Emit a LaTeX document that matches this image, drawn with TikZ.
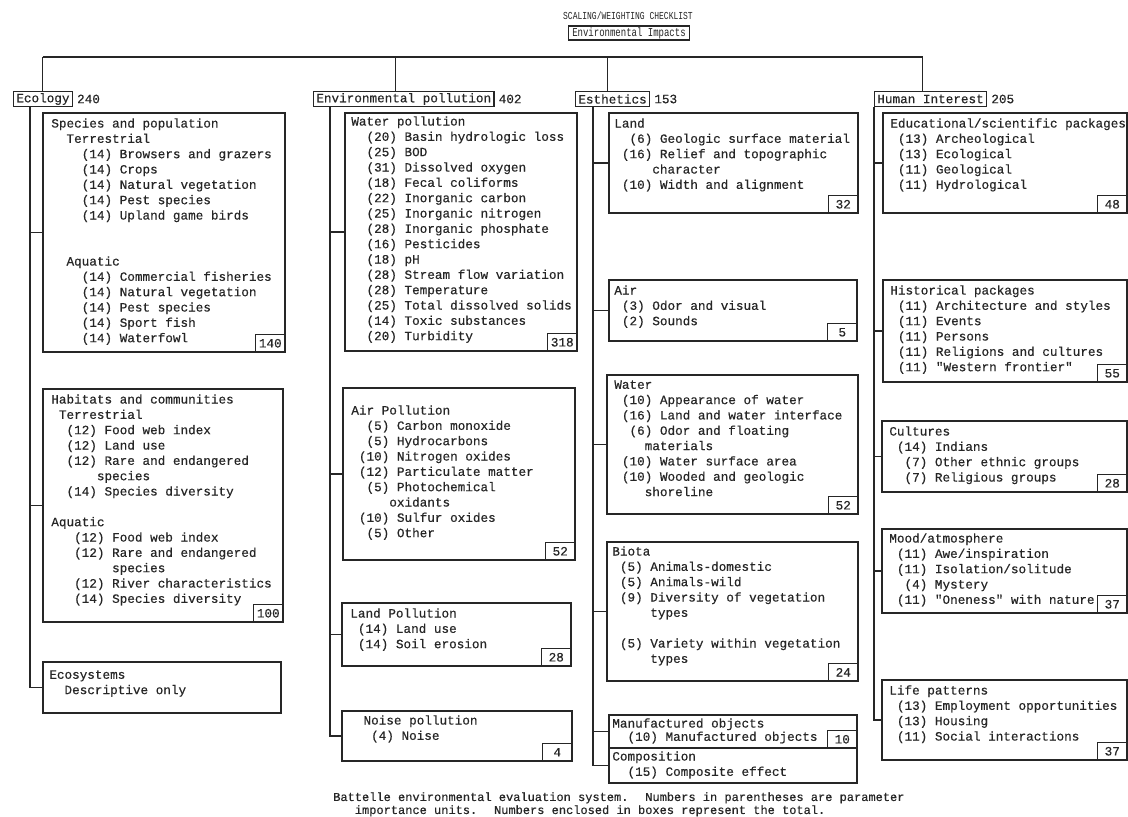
\documentclass[tikz,border=0pt]{standalone}
\usepackage{fontspec}
\setmainfont{Liberation Mono}
\newfontfamily\monof[FakeBold=0.4]{Liberation Mono}
\newfontfamily\narrowmono[FakeStretch=0.75]{Liberation Mono}
\usetikzlibrary{fit}
\newcommand\bodyf{\monof\fontsize{9.5pt}{11.5pt}\selectfont}
\newcommand\capf{\monof\fontsize{9pt}{9.75pt}\selectfont}
\newcommand\titlef{\narrowmono\fontsize{8pt}{9pt}\selectfont}
\newcommand\boxf{\narrowmono\fontsize{9pt}{10pt}\selectfont}
\newcommand\ind[1]{\hspace*{\dimexpr 6em*#1/10\relax}}
\colorlet{ink}{black!85}
\begin{document}
\begin{tikzpicture}[x=0.75pt,y=-0.75pt,
  panel/.style={draw=ink, line width=1.4pt, inner sep=0pt},
  txt/.style={anchor=north west, inner sep=0pt, align=left, font=\bodyf, text=ink, execute at begin node=\strut},
  lbl/.style={draw=ink, line width=1pt, anchor=north west, font=\bodyf, text=ink, inner xsep=2pt, inner ysep=0pt, minimum height=11pt},
  num/.style={anchor=west, font=\bodyf, text=ink, inner sep=0pt},
  tot/.style={draw=ink, line width=1pt, anchor=south east, font=\bodyf, text=ink, minimum width=22.5pt, minimum height=13.5pt, inner sep=0pt},
  conn/.style={draw=ink, line width=0.8pt}]
\useasboundingbox[fill=white] (0,0) rectangle (1128,817);

% title
\node[font=\titlef, text=ink] (title) at (628,16) {SCALING/WEIGHTING CHECKLIST};
\node[draw=ink, line width=1pt, font=\boxf, text=ink, inner xsep=3pt, inner ysep=0pt, minimum height=10.5pt] (root) at (629,33) {Environmental Impacts};

% category labels
\node[lbl] (eco) at (13,91) {Ecology};
\node[num] (ecoN) at ([xshift=3pt]eco.east) {240};
\node[lbl] (env) at (313,91) {Environmental pollution};
\node[num] (envN) at ([xshift=3pt]env.east) {402};
\node[lbl] (est) at (575,91) {Esthetics};
\node[num] (estN) at ([xshift=3pt]est.east) {153};
\node[lbl] (hum) at (874,91) {Human Interest};
\node[num] (humN) at ([xshift=3pt]hum.east) {205};

% bus
\coordinate (bus) at (0,57);
\draw[conn] (eco.north |- bus) -- ([xshift=-6pt]hum.north |- bus);
\draw[conn] (eco.north |- bus) -- (eco.north);
\draw[conn] ([xshift=-6pt]env.north |- bus) -- ([xshift=-6pt]env.north);
\draw[conn] ([xshift=-4pt]est.north |- bus) -- ([xshift=-4pt]est.north);
\draw[conn] ([xshift=-6pt]hum.north |- bus) -- ([xshift=-6pt]hum.north);

% ===== Ecology =====
\node[panel, fit={(43,113) (285,352)}] (sp) {};
\node[txt] (spT) at ([shift={(9,6)}]sp.north west) {Species and population\\
\ind{2}Terrestrial\\
\ind{4}(14) Browsers and grazers\\
\ind{4}(14) Crops\\
\ind{4}(14) Natural vegetation\\
\ind{4}(14) Pest species\\
\ind{4}(14) Upland game birds\\
\strut\\
\strut\\
\ind{2}Aquatic\\
\ind{4}(14) Commercial fisheries\\
\ind{4}(14) Natural vegetation\\
\ind{4}(14) Pest species\\
\ind{4}(14) Sport fish\\
\ind{4}(14) Waterfowl};
\node[tot] (spS) at (sp.south east) {140};

\node[panel, fit={(43,389) (283,622)}] (hab) {};
\node[txt] (habT) at ([shift={(9,6)}]hab.north west) {Habitats and communities\\
\ind{1}Terrestrial\\
\ind{2}(12) Food web index\\
\ind{2}(12) Land use\\
\ind{2}(12) Rare and endangered\\
\ind{6}species\\
\ind{2}(14) Species diversity\\
\strut\\
Aquatic\\
\ind{3}(12) Food web index\\
\ind{3}(12) Rare and endangered\\
\ind{8}species\\
\ind{3}(12) River characteristics\\
\ind{3}(14) Species diversity};
\node[tot] (habS) at (hab.south east) {100};

\node[panel, fit={(43,662) (281,713)}] (ecosys) {};
\node[txt] (ecosysT) at ([shift={(7,9)}]ecosys.north west) {Ecosystems\\
\ind{2}Descriptive only};

\coordinate (ecoT) at ([xshift=12.75pt]eco.south west);
\draw[conn] (ecoT) |- (ecosys.west);
\draw[conn] (ecoT |- sp.west) -- (sp.west);
\draw[conn] (ecoT |- hab.west) -- (hab.west);

% ===== Environmental pollution =====
\node[panel, fit={(345,113) (577,351)}] (wat) {};
\node[txt] (watT) at ([shift={(7,4)}]wat.north west) {Water pollution\\
\ind{2}(20) Basin hydrologic loss\\
\ind{2}(25) BOD\\
\ind{2}(31) Dissolved oxygen\\
\ind{2}(18) Fecal coliforms\\
\ind{2}(22) Inorganic carbon\\
\ind{2}(25) Inorganic nitrogen\\
\ind{2}(28) Inorganic phosphate\\
\ind{2}(16) Pesticides\\
\ind{2}(18) pH\\
\ind{2}(28) Stream flow variation\\
\ind{2}(28) Temperature\\
\ind{2}(25) Total dissolved solids\\
\ind{2}(14) Toxic substances\\
\ind{2}(20) Turbidity};
\node[tot] (watS) at (wat.south east) {318};

\node[panel, fit={(343,388) (575,560)}] (air) {};
\node[txt] (airT) at ([shift={(9,18)}]air.north west) {Air Pollution\\
\ind{2}(5) Carbon monoxide\\
\ind{2}(5) Hydrocarbons\\
\ind{1}(10) Nitrogen oxides\\
\ind{1}(12) Particulate matter\\
\ind{2}(5) Photochemical\\
\ind{5}oxidants\\
\ind{1}(10) Sulfur oxides\\
\ind{2}(5) Other};
\node[tot] (airS) at (air.south east) {52};

\node[panel, fit={(342,603) (571,666)}] (lpol) {};
\node[txt] (lpolT) at ([shift={(9,6)}]lpol.north west) {Land Pollution\\
\ind{1}(14) Land use\\
\ind{1}(14) Soil erosion};
\node[tot] (lpolS) at (lpol.south east) {28};

\node[panel, fit={(342,711) (572,761)}] (noise) {};
\node[txt] (noiseT) at ([shift={(7,5)}]noise.north west) {\ind{2}Noise pollution\\
\ind{3}(4) Noise};
\node[tot] (noiseS) at (noise.south east) {4};

\coordinate (envT) at ([xshift=12.75pt]env.south west);
\draw[conn] (envT) |- (noise.west);
\draw[conn] (envT |- wat.west) -- (wat.west);
\draw[conn] (envT |- air.west) -- (air.west);
\draw[conn] (envT |- lpol.west) -- (lpol.west);

% ===== Esthetics =====
\node[panel, fit={(609,113) (858,213)}] (eland) {};
\node[txt] (elandT) at ([shift={(6,6)}]eland.north west) {Land\\
\ind{2}(6) Geologic surface material\\
\ind{1}(16) Relief and topographic\\
\ind{5}character\\
\ind{1}(10) Width and alignment};
\node[tot] (elandS) at (eland.south east) {32};

\node[panel, fit={(609,280) (857,341)}] (eair) {};
\node[txt] (eairT) at ([shift={(6,6)}]eair.north west) {Air\\
\ind{1}(3) Odor and visual\\
\ind{1}(2) Sounds};
\node[tot] (eairS) at (eair.south east) {5};

\node[panel, fit={(607,375) (858,514)}] (ewat) {};
\node[txt] (ewatT) at ([shift={(8,6)}]ewat.north west) {Water\\
\ind{1}(10) Appearance of water\\
\ind{1}(16) Land and water interface\\
\ind{2}(6) Odor and floating\\
\ind{4}materials\\
\ind{1}(10) Water surface area\\
\ind{1}(10) Wooded and geologic\\
\ind{4}shoreline};
\node[tot] (ewatS) at (ewat.south east) {52};

\node[panel, fit={(607,542) (858,681)}] (bio) {};
\node[txt] (bioT) at ([shift={(6,5)}]bio.north west) {Biota\\
\ind{1}(5) Animals-domestic\\
\ind{1}(5) Animals-wild\\
\ind{1}(9) Diversity of vegetation\\
\ind{5}types\\
\strut\\
\ind{1}(5) Variety within vegetation\\
\ind{5}types};
\node[tot] (bioS) at (bio.south east) {24};

\node[panel, fit={(609,715) (857,748)}] (man) {};
\node[txt, font=\monof\fontsize{9.5pt}{10pt}\selectfont] (manT) at ([shift={(4,4)}]man.north west) {Manufactured objects\\
\ind{2}(10) Manufactured objects};
\node[tot] (manS) at (man.south east) {10};

\node[panel, fit={(609,748) (857,783)}] (comp) {};
\node[txt] (compT) at ([shift={(4,4)}]comp.north west) {Composition\\
\ind{2}(15) Composite effect};

\coordinate (estT) at ([xshift=13.5pt]est.south west);
\draw[conn] (estT) |- (comp.west);
\draw[conn] (estT |- eland.west) -- (eland.west);
\draw[conn] (estT |- eair.west) -- (eair.west);
\draw[conn] (estT |- ewat.west) -- (ewat.west);
\draw[conn] (estT |- bio.west) -- (bio.west);
\draw[conn] (estT |- man.west) -- (man.west);

% ===== Human interest =====
\node[panel, fit={(883,113) (1127,213)}] (edu) {};
\node[txt] (eduT) at ([shift={(8,6)}]edu.north west) {Educational/scientific packages\\
\ind{1}(13) Archeological\\
\ind{1}(13) Ecological\\
\ind{1}(11) Geological\\
\ind{1}(11) Hydrological};
\node[tot] (eduS) at (edu.south east) {48};

\node[panel, fit={(883,280) (1127,382)}] (hist) {};
\node[txt] (histT) at ([shift={(8,6)}]hist.north west) {Historical packages\\
\ind{1}(11) Architecture and styles\\
\ind{1}(11) Events\\
\ind{1}(11) Persons\\
\ind{1}(11) Religions and cultures\\
\ind{1}(11) "Western frontier"};
\node[tot] (histS) at (hist.south east) {55};

\node[panel, fit={(882,421) (1127,492)}] (cult) {};
\node[txt] (cultT) at ([shift={(8,6)}]cult.north west) {Cultures\\
\ind{1}(14) Indians\\
\ind{2}(7) Other ethnic groups\\
\ind{2}(7) Religious groups};
\node[tot] (cultS) at (cult.south east) {28};

\node[panel, fit={(882,529) (1127,613)}] (mood) {};
\node[txt] (moodT) at ([shift={(8,5)}]mood.north west) {Mood/atmosphere\\
\ind{1}(11) Awe/inspiration\\
\ind{1}(11) Isolation/solitude\\
\ind{2}(4) Mystery\\
\ind{1}(11) "Oneness" with nature};
\node[tot] (moodS) at (mood.south east) {37};

\node[panel, fit={(882,680) (1127,760)}] (life) {};
\node[txt] (lifeT) at ([shift={(8,6)}]life.north west) {Life patterns\\
\ind{1}(13) Employment opportunities\\
\ind{1}(13) Housing\\
\ind{1}(11) Social interactions};
\node[tot] (lifeS) at (life.south east) {37};

\coordinate (humT) at (hum.south west);
\draw[conn] (humT) |- (life.west);
\draw[conn] (humT |- edu.west) -- (edu.west);
\draw[conn] (humT |- hist.west) -- (hist.west);
\draw[conn] (humT |- cult.west) -- (cult.west);
\draw[conn] (humT |- mood.west) -- (mood.west);

% caption
\node[anchor=north west, inner sep=0pt, align=left, font=\capf, text=ink, execute at begin node=\strut] (cap) at (333,792) {Battelle environmental evaluation system.~ Numbers in parentheses are parameter\\
\ind{3}importance units.~ Numbers enclosed in boxes represent the total.};
\end{tikzpicture}
\end{document}
